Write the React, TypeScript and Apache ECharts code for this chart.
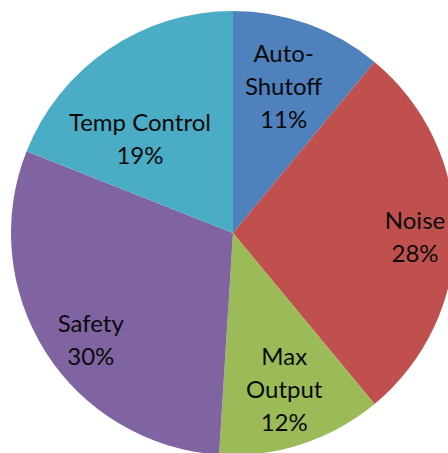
import React, { useEffect, useRef } from "react";
import * as echarts from "echarts";

const categories = ["Auto-\nShutoff", "Noise", "Max\nOutput", "Safety", "Temp Control"];
const values = [11, 28, 12, 30, 19];
const colors = ["#4F81BD", "#C0504D", "#9BBB59", "#8064A2", "#4BACC6"];
const labelOffsets = [
  [12, -40],
  [68, 3],
  [16, 47],
  [-46, 45],
  [-29, -1],
];

export default function App() {
  const ref = useRef<HTMLDivElement>(null);
  useEffect(() => {
    if (!ref.current) return;
    const chart = echarts.init(ref.current, undefined, { renderer: "svg" });
    chart.setOption({
      animation: false,
      backgroundColor: "#ffffff",
      series: [
        {
          type: "pie",
          center: [233, 233],
          radius: 222,
          startAngle: 90,
          clockwise: true,
          label: {
            show: true,
            position: "inside",
            formatter: (p: any) => `${p.name}\n${p.value}%`,
            fontFamily: "Lato, 'Open Sans', sans-serif",
            fontSize: 24,
            lineHeight: 33,
            color: "#0a0a0a",
            align: "center",
          },
          labelLine: { show: false },
          emphasis: { disabled: true },
          itemStyle: { borderWidth: 0 },
          data: categories.map((c, i) => ({
            name: c,
            value: values[i],
            itemStyle: { color: colors[i] },
            label: { offset: labelOffsets[i] },
          })),
        },
      ],
    });
    return () => chart.dispose();
  }, []);
  return (
    <div
      ref={ref}
      style={{ position: "fixed", left: 0, top: 0, width: 448, height: 453 }}
    />
  );
}
